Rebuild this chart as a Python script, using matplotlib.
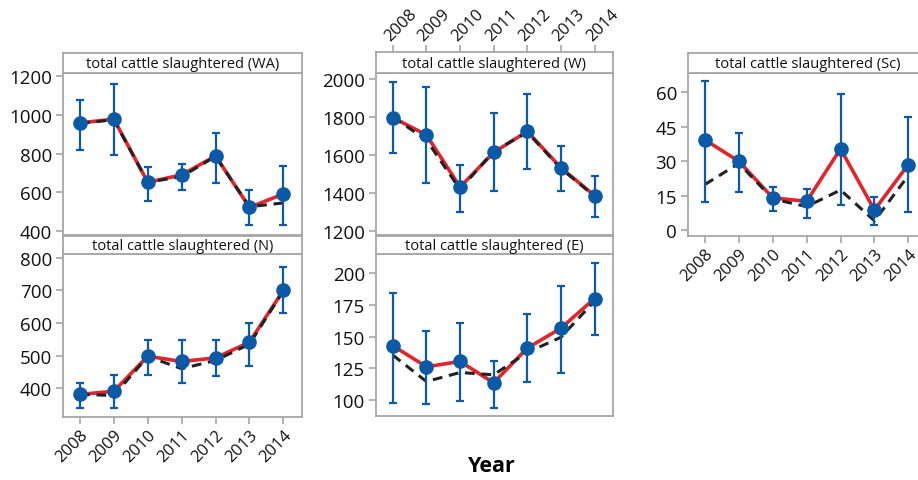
import matplotlib.pyplot as plt

plt.rcParams['font.family'] = ['Open Sans', 'DejaVu Sans']

years = [2008, 2009, 2010, 2011, 2012, 2013, 2014]

# WA
wa_mean = [959, 978, 652, 690, 788, 522, 591]
wa_low = [819, 791, 557, 610, 648, 433, 433]
wa_high = [1079, 1162, 729, 745, 907, 612, 738]
wa_fit = [957, 975, 652, 681, 786, 525, 545]

# N
n_mean = [381, 391, 498, 482, 493, 541, 700]
n_low = [340, 340, 442, 416, 437, 469, 629]
n_high = [415, 442, 549, 549, 549, 601, 771]
n_fit = [381, 378, 497, 460, 485, 535, 698]

# W
w_mean = [1797, 1706, 1433, 1614, 1725, 1534, 1388]
w_low = [1610, 1456, 1300, 1412, 1529, 1412, 1275]
w_high = [1983, 1955, 1548, 1821, 1920, 1647, 1492]
w_fit = [1800, 1680, 1420, 1620, 1720, 1530, 1385]

# E
e_mean = [142.9, 126.3, 130.5, 113.7, 141.0, 156.6, 180.0]
e_low = [98.2, 96.8, 99.5, 93.7, 114.5, 121.3, 151.6]
e_high = [184.7, 154.5, 161.0, 130.8, 168.0, 190.0, 208.0]
e_fit = [135.5, 114.7, 121.8, 120.0, 137.6, 149.5, 178.0]

# Sc
sc_mean = [39.2, 29.9, 14.0, 12.5, 35.3, 8.7, 28.5]
sc_low = [12.1, 16.7, 8.3, 5.2, 10.7, 2.3, 7.7]
sc_high = [64.7, 42.3, 18.9, 18.0, 59.2, 14.4, 49.3]
sc_fit = [19.8, 29.0, 13.5, 10.2, 17.4, 4.0, 23.7]

W, H = 918, 481
GRAY = '#a6a6a6'
BLUE = '#0b5aa8'
RED = '#e3242b'
TXT = '#111111'
YLBL = 13.5
XLBL = 12

fig = plt.figure(figsize=(W / 100, H / 100), dpi=100)


def panel(left, right, strip_top, top, bottom, title, mean, low, high, fit,
          ylim, yticks, xlabels=None):
    ax = fig.add_axes([left / W, 1 - bottom / H, (right - left) / W, (bottom - top) / H])
    st = fig.add_axes([left / W, 1 - top / H, (right - left) / W, (top - strip_top) / H])
    st.set_yticks([])
    st.set_xlim(2007.5, 2014.55)
    for s in st.spines.values():
        s.set_color(GRAY)
        s.set_linewidth(1.3)
    st.text(0.5, 0.46, title, ha='center', va='center', fontsize=10.5, color=TXT,
            transform=st.transAxes)

    ax.plot(years, mean, color=RED, lw=2.6, zorder=2)
    ax.plot(years, fit, color='#222222', lw=2.2, ls=(0, (3.2, 2.2)), zorder=3)
    yerr = [[m - l for m, l in zip(mean, low)], [h - m for m, h in zip(mean, high)]]
    ax.errorbar(years, mean, yerr=yerr, fmt='o', color=BLUE, ms=9.5,
                ecolor=BLUE, elinewidth=1.6, capsize=3, capthick=1.6, zorder=4)

    ax.set_xlim(2007.5, 2014.55)
    ax.set_ylim(*ylim)
    ax.set_yticks(yticks)
    ax.set_xticks(years)
    for s in ax.spines.values():
        s.set_color(GRAY)
        s.set_linewidth(1.3)
    ax.tick_params(axis='y', colors=GRAY, labelcolor=TXT, labelsize=YLBL,
                   length=5, width=1.2, pad=3)
    if xlabels == 'bottom':
        ax.tick_params(axis='x', colors=GRAY, labelcolor=TXT, labelsize=XLBL,
                       length=5, width=1.2, pad=2)
        ax.set_xticklabels(years, rotation=45, ha='right', rotation_mode='anchor')
    else:
        ax.tick_params(axis='x', bottom=False, labelbottom=False)

    if xlabels == 'top':
        st.set_xticks(years)
        st.xaxis.tick_top()
        st.tick_params(axis='x', colors=GRAY, labelcolor=TXT, labelsize=XLBL,
                       length=5, width=1.2, pad=1)
        st.set_xticklabels(years, rotation=45, ha='left', rotation_mode='anchor')
    else:
        st.set_xticks([])
    return ax


panel(63, 302, 54, 74, 236, 'total cattle slaughtered (WA)', wa_mean, wa_low, wa_high,
      wa_fit, (379, 1217), [400, 600, 800, 1000, 1200])
panel(63, 302, 237, 255, 418, 'total cattle slaughtered (N)', n_mean, n_low, n_high,
      n_fit, (312, 811), [400, 500, 600, 700, 800], xlabels='bottom')
panel(376, 613, 53, 74, 236, 'total cattle slaughtered (W)', w_mean, w_low, w_high,
      w_fit, (1181, 2031), [1200, 1400, 1600, 1800, 2000], xlabels='top')
panel(376, 613, 237, 255, 417, 'total cattle slaughtered (E)', e_mean, e_low, e_high,
      e_fit, (87.6, 215), [100, 125, 150, 175, 200])
panel(688, 927, 54, 74, 237, 'total cattle slaughtered (Sc)', sc_mean, sc_low, sc_high,
      sc_fit, (-2.6, 68.3), [0, 15, 30, 45, 60], xlabels='bottom')

fig.text(492 / W, 1 - 467 / H, 'Year', ha='center', va='center', fontsize=15.5,
         fontweight='bold')

fig.savefig('out.png', dpi=100)
